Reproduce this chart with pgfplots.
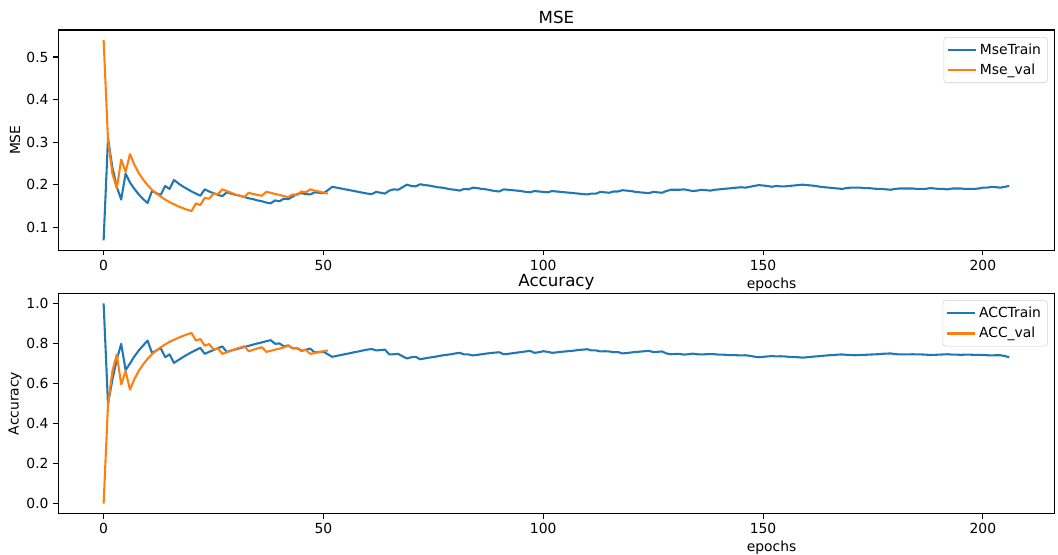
\documentclass[border=0pt]{standalone}
\usepackage{pgfplots}
\pgfplotsset{compat=1.18}
\usepackage{fontspec}
\setmainfont{DejaVu Sans}
\definecolor{tabblue}{HTML}{1F77B4}
\definecolor{taborange}{HTML}{FF7F0E}
\pgfplotsset{
  myaxis/.style={
    scale only axis, width=717.3pt, height=158.7pt,
    xmin=-10.3, xmax=216.3,
    xtick={0,50,100,150,200},
    tick pos=left, tick align=outside,
    major tick length=3.5pt,
    every tick/.style={black, line width=0.8pt},
    axis line style={line width=0.8pt},
    /pgf/number format/assume math mode=true,
    ticklabel style={font=\fontsize{10}{12}\selectfont},
    label style={font=\fontsize{10}{12}\selectfont},
    xlabel style={at={(axis description cs:0.716,0)}, anchor=center, yshift=-24.5pt},
    ylabel style={at={(axis description cs:-0.0435,0.5)}, anchor=center},
    title style={at={(axis description cs:0.5,1)}, anchor=base, yshift=-1pt, font=\fontsize{12}{14}\selectfont},
    legend style={at={(axis description cs:0.993,0.968)}, anchor=north east, draw=black!18, rounded corners=2pt, font=\fontsize{10}{12}\selectfont, inner sep=2.5pt, row sep=1.5pt},
    legend cell align=left,
    legend image code/.code={\draw[##1] (0pt,0pt) -- (20pt,0pt);},
    every axis plot/.append style={line width=1.5pt, line join=round, mark=none},
  }
}
\begin{document}
\begin{tikzpicture}
\useasboundingbox (-42pt,21.6pt) rectangle (719.8pt,-378pt);
\begin{axis}[myaxis, at={(0,0)}, anchor=north west,
  ymin=0.0455, ymax=0.5635, ytick={0.1,0.2,0.3,0.4,0.5},
  yticklabel style={/pgf/number format/.cd, fixed, fixed zerofill, precision=1},
  title={MSE}, xlabel={epochs}, ylabel={MSE}]
\addplot[tabblue] table {
0 0.069
1 0.309
2 0.240
3 0.195
4 0.165
5 0.226
6 0.205
7 0.190
8 0.177
9 0.166
10 0.157
11 0.185
12 0.180
13 0.176
14 0.197
15 0.190
16 0.211
17 0.203
18 0.196
19 0.190
20 0.184
21 0.179
22 0.174
23 0.189
24 0.184
25 0.180
26 0.176
27 0.173
28 0.182
29 0.179
30 0.176
31 0.174
32 0.171
33 0.168
34 0.166
35 0.163
36 0.161
37 0.158
38 0.156
39 0.163
40 0.161
41 0.167
42 0.166
43 0.172
44 0.178
45 0.180
46 0.178
47 0.177
48 0.182
49 0.181
50 0.180
51 0.187
52 0.195
53 0.193
54 0.191
55 0.189
56 0.187
57 0.185
58 0.183
59 0.181
60 0.179
61 0.178
62 0.183
63 0.181
64 0.179
65 0.186
66 0.189
67 0.188
68 0.194
69 0.200
70 0.197
71 0.196
72 0.201
73 0.199
74 0.198
75 0.196
76 0.194
77 0.193
78 0.191
79 0.189
80 0.188
81 0.186
82 0.190
83 0.189
84 0.193
85 0.192
86 0.190
87 0.189
88 0.187
89 0.185
90 0.184
91 0.189
92 0.188
93 0.187
94 0.186
95 0.185
96 0.183
97 0.182
98 0.185
99 0.184
100 0.183
101 0.182
102 0.185
103 0.184
104 0.183
105 0.182
106 0.181
107 0.180
108 0.179
109 0.178
110 0.177
111 0.179
112 0.179
113 0.183
114 0.182
115 0.181
116 0.184
117 0.184
118 0.187
119 0.186
120 0.185
121 0.183
122 0.182
123 0.181
124 0.180
125 0.183
126 0.182
127 0.181
128 0.185
129 0.188
130 0.188
131 0.188
132 0.189
133 0.187
134 0.185
135 0.186
136 0.188
137 0.187
138 0.186
139 0.188
140 0.189
141 0.190
142 0.191
143 0.192
144 0.193
145 0.194
146 0.193
147 0.195
148 0.197
149 0.199
150 0.198
151 0.197
152 0.195
153 0.197
154 0.196
155 0.196
156 0.197
157 0.198
158 0.199
159 0.200
160 0.199
161 0.198
162 0.197
163 0.195
164 0.194
165 0.193
166 0.192
167 0.191
168 0.190
169 0.192
170 0.193
171 0.193
172 0.193
173 0.192
174 0.192
175 0.191
176 0.190
177 0.190
178 0.189
179 0.188
180 0.190
181 0.191
182 0.191
183 0.191
184 0.191
185 0.190
186 0.190
187 0.190
188 0.192
189 0.191
190 0.190
191 0.190
192 0.189
193 0.191
194 0.191
195 0.191
196 0.190
197 0.190
198 0.190
199 0.191
200 0.193
201 0.193
202 0.195
203 0.194
204 0.193
205 0.195
206 0.197
};
\addlegendentry{MseTrain}
\addplot[taborange] table {
0 0.540
1 0.305
2 0.226
3 0.191
4 0.259
5 0.230
6 0.272
7 0.247
8 0.227
9 0.212
10 0.199
11 0.188
12 0.179
13 0.172
14 0.165
15 0.159
16 0.154
17 0.149
18 0.145
19 0.141
20 0.138
21 0.156
22 0.152
23 0.169
24 0.167
25 0.179
26 0.178
27 0.189
28 0.185
29 0.181
30 0.177
31 0.174
32 0.171
33 0.181
34 0.178
35 0.176
36 0.174
37 0.183
38 0.181
39 0.178
40 0.176
41 0.173
42 0.171
43 0.177
44 0.176
45 0.184
46 0.182
47 0.189
48 0.186
49 0.184
50 0.181
51 0.179
};
\addlegendentry{Mse\_val}
\end{axis}
\begin{axis}[myaxis, at={(0,-189.6pt)}, anchor=north west,
  ymin=-0.05, ymax=1.05, ytick={0,0.2,0.4,0.6,0.8,1.0},
  yticklabel style={/pgf/number format/.cd, fixed, fixed zerofill, precision=1},
  title={Accuracy}, xlabel={epochs}, ylabel={Accuracy}]
\addplot[tabblue] table {
0 1.000
1 0.496
2 0.620
3 0.720
4 0.798
5 0.667
6 0.700
7 0.735
8 0.765
9 0.790
10 0.814
11 0.753
12 0.765
13 0.776
14 0.731
15 0.745
16 0.703
17 0.717
18 0.731
19 0.744
20 0.756
21 0.767
22 0.778
23 0.748
24 0.758
25 0.767
26 0.776
27 0.785
28 0.758
29 0.764
30 0.770
31 0.776
32 0.782
33 0.788
34 0.794
35 0.800
36 0.805
37 0.811
38 0.816
39 0.798
40 0.800
41 0.786
42 0.790
43 0.776
44 0.776
45 0.763
46 0.769
47 0.774
48 0.755
49 0.757
50 0.758
51 0.746
52 0.733
53 0.738
54 0.742
55 0.747
56 0.751
57 0.756
58 0.760
59 0.765
60 0.769
61 0.772
62 0.765
63 0.767
64 0.769
65 0.745
66 0.746
67 0.748
68 0.736
69 0.725
70 0.731
71 0.733
72 0.721
73 0.725
74 0.729
75 0.732
76 0.736
77 0.740
78 0.743
79 0.746
80 0.750
81 0.753
82 0.745
83 0.745
84 0.740
85 0.743
86 0.746
87 0.749
88 0.752
89 0.754
90 0.756
91 0.746
92 0.748
93 0.751
94 0.754
95 0.757
96 0.760
97 0.763
98 0.753
99 0.756
100 0.761
101 0.758
102 0.753
103 0.755
104 0.758
105 0.760
106 0.762
107 0.764
108 0.767
109 0.769
110 0.771
111 0.765
112 0.765
113 0.760
114 0.761
115 0.760
116 0.756
117 0.757
118 0.750
119 0.752
120 0.755
121 0.757
122 0.759
123 0.761
124 0.763
125 0.757
126 0.758
127 0.760
128 0.750
129 0.746
130 0.747
131 0.748
132 0.744
133 0.746
134 0.749
135 0.746
136 0.745
137 0.746
138 0.747
139 0.746
140 0.744
141 0.744
142 0.742
143 0.742
144 0.741
145 0.740
146 0.741
147 0.738
148 0.734
149 0.731
150 0.733
151 0.735
152 0.737
153 0.735
154 0.736
155 0.735
156 0.733
157 0.732
158 0.731
159 0.729
160 0.731
161 0.733
162 0.735
163 0.737
164 0.739
165 0.741
166 0.742
167 0.744
168 0.745
169 0.743
170 0.742
171 0.741
172 0.742
173 0.743
174 0.744
175 0.745
176 0.746
177 0.748
178 0.749
179 0.750
180 0.747
181 0.745
182 0.745
183 0.745
184 0.746
185 0.745
186 0.745
187 0.744
188 0.742
189 0.743
190 0.744
191 0.745
192 0.746
193 0.744
194 0.744
195 0.743
196 0.744
197 0.744
198 0.743
199 0.743
200 0.742
201 0.741
202 0.740
203 0.741
204 0.741
205 0.737
206 0.731
};
\addlegendentry{ACCTrain}
\addplot[taborange] table {
0 0.000
1 0.496
2 0.662
3 0.745
4 0.595
5 0.662
6 0.569
7 0.622
8 0.663
9 0.696
10 0.723
11 0.746
12 0.765
13 0.781
14 0.795
15 0.808
16 0.818
17 0.828
18 0.837
19 0.845
20 0.852
21 0.814
22 0.822
23 0.789
24 0.797
25 0.770
26 0.775
27 0.748
28 0.756
29 0.764
30 0.772
31 0.779
32 0.786
33 0.761
34 0.768
35 0.775
36 0.781
37 0.758
38 0.763
39 0.769
40 0.774
41 0.780
42 0.789
43 0.775
44 0.778
45 0.766
46 0.768
47 0.748
48 0.752
49 0.757
50 0.761
51 0.765
};
\addlegendentry{ACC\_val}
\end{axis}
\end{tikzpicture}
\end{document}
